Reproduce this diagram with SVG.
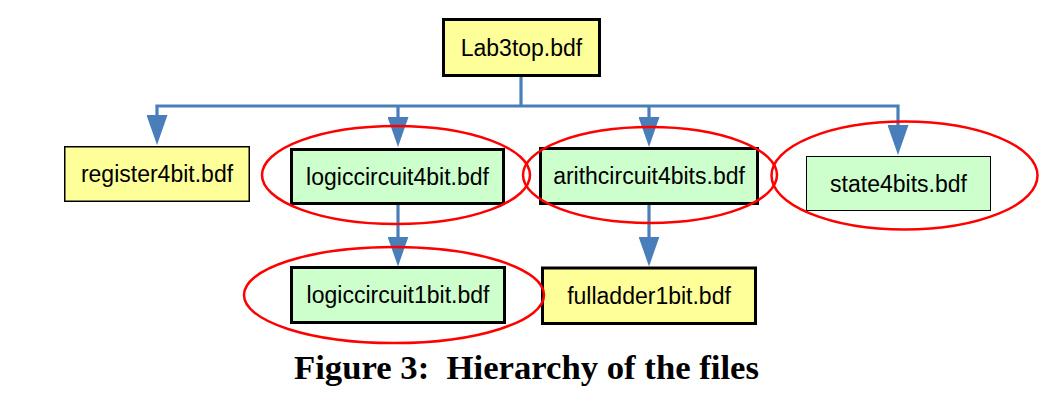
<svg xmlns="http://www.w3.org/2000/svg" width="1062" height="413" viewBox="0 0 1062 413">
<style>
.box{stroke:#000;stroke-width:3}
.thin{stroke:#000;stroke-width:1.5}
.yellow{fill:#FFFF99}
.green{fill:#CCFFCC}
.lbl{font-family:"Liberation Sans",Arial,sans-serif;font-size:23px;fill:#000;text-anchor:middle}
.ring{fill:none;stroke:#FF0000;stroke-width:2.5}
.conn{fill:none;stroke:#4A7EBB;stroke-width:3.2}
.cap{font-family:"Liberation Serif","Times New Roman",serif;font-size:34.7px;font-weight:bold;fill:#000;white-space:pre}
</style>
<defs>
<marker id="arr" viewBox="0 0 30 21" refX="20" refY="10.5" markerWidth="30" markerHeight="21" markerUnits="userSpaceOnUse" orient="auto-start-reverse">
<path d="M0,0 L30,10.5 L0,21 z" fill="#4A7EBB"/>
</marker>
</defs>
<rect width="1062" height="413" fill="#fff"/>
<g id="connectors">
<path class="conn" d="M521 77 V106"/>
<path class="conn" d="M157 135 V106 H898 V145" marker-start="url(#arr)" marker-end="url(#arr)"/>
<path class="conn" d="M398 106 V137" marker-end="url(#arr)"/>
<path class="conn" d="M649 106 V137" marker-end="url(#arr)"/>
<path class="conn" d="M398 205 V256.5" marker-end="url(#arr)"/>
<path class="conn" d="M649 205 V256.5" marker-end="url(#arr)"/>
</g>
<g id="lab3top">
<rect class="box yellow" x="443.5" y="19.5" width="156" height="56"/>
<text class="lbl" x="521.5" y="55.5">Lab3top.bdf</text>
</g>
<g id="register4bit">
<rect class="thin yellow" x="64.75" y="146.75" width="184.5" height="54.5"/>
<text class="lbl" x="157" y="182">register4bit.bdf</text>
</g>
<g id="logiccircuit4bit">
<rect class="box green" x="291.5" y="149.5" width="212" height="54"/>
<text class="lbl" x="397.5" y="184.5">logiccircuit4bit.bdf</text>
</g>
<g id="arithcircuit4bits">
<rect class="box green" x="540.5" y="148.5" width="217" height="55"/>
<text class="lbl" x="649" y="184">arithcircuit4bits.bdf</text>
</g>
<g id="state4bits">
<rect class="green" x="806.5" y="156.5" width="184" height="54" stroke="#000" stroke-width="1"/>
<text class="lbl" x="898.5" y="191.5">state4bits.bdf</text>
</g>
<g id="logiccircuit1bit">
<rect class="box green" x="291.5" y="267.5" width="213" height="55"/>
<text class="lbl" x="398" y="303">logiccircuit1bit.bdf</text>
</g>
<g id="fulladder1bit">
<rect class="box yellow" x="542.5" y="268" width="213" height="55.5"/>
<text class="lbl" x="649" y="304">fulladder1bit.bdf</text>
</g>
<g id="highlights">
<ellipse class="ring" cx="396" cy="175" rx="134" ry="49"/>
<ellipse class="ring" cx="650" cy="175" rx="127" ry="48"/>
<ellipse class="ring" cx="904.5" cy="175.5" rx="133" ry="54"/>
<ellipse class="ring" cx="394" cy="295" rx="150" ry="48"/>
</g>
<text class="cap" x="294" y="379">Figure 3:  Hierarchy of the files</text>
</svg>
